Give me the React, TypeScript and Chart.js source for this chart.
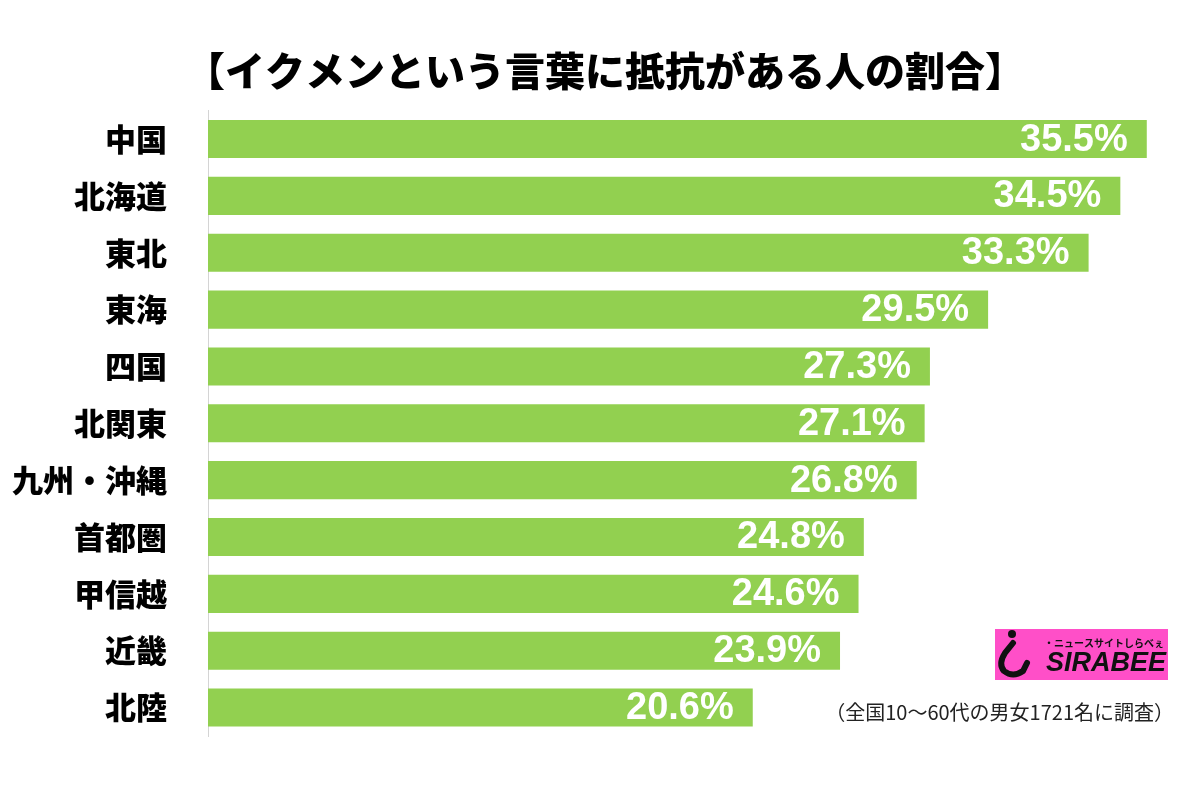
import React, { useEffect, useRef } from "react";
import { Chart, registerables } from "chart.js";

Chart.register(...registerables);

const TITLE = "【イクメンという言葉に抵抗がある人の割合】";
const regions = ["中国", "北海道", "東北", "東海", "四国", "北関東", "九州・沖縄", "首都圏", "甲信越", "近畿", "北陸"];
const percents = [35.5, 34.5, 33.3, 29.5, 27.3, 27.1, 26.8, 24.8, 24.6, 23.9, 20.6];
const valueLabels = percents.map((v) => v.toFixed(1) + "%");
const NOTE = "（全国10～60代の男女1721名に調査）";
const LOGO_TEXT = "SIRABEE";
const LOGO_SUB = "ニュースサイトしらべぇ";

const JP = '"Noto Sans CJK JP", "Noto Sans", sans-serif';
const NUM = '"Liberation Sans", Arial, sans-serif';

const valuePlugin = {
  id: "valueLabels",
  afterDatasetsDraw(chart: any) {
    const ctx = chart.ctx;
    const meta = chart.getDatasetMeta(0);
    ctx.save();
    ctx.font = `bold 38px ${NUM}`;
    ctx.fillStyle = "#ffffff";
    ctx.textAlign = "right";
    ctx.textBaseline = "middle";
    meta.data.forEach((el: any, i: number) => {
      ctx.fillText(valueLabels[i], el.x - 19, el.y + 1);
    });
    ctx.restore();
  },
};

const decorPlugin = {
  id: "decor",
  afterDraw(chart: any) {
    const ctx = chart.ctx;
    ctx.save();
    // title
    ctx.font = `900 40px ${JP}`;
    ctx.fillStyle = "#000";
    ctx.textAlign = "center";
    ctx.textBaseline = "middle";
    ctx.fillText(TITLE, 605, 71);
    // note
    ctx.font = `20px ${JP}`;
    ctx.fillStyle = "#222";
    ctx.textAlign = "right";
    ctx.textBaseline = "middle";
    ctx.fillText(NOTE, 1174, 712);
    // logo
    const lx = 995, ly = 629, lw = 173, lh = 51;
    ctx.fillStyle = "#FF4FC8";
    ctx.fillRect(lx, ly, lw, lh);
    ctx.fillStyle = "#111";
    ctx.beginPath();
    ctx.arc(1012, 634, 4, 0, Math.PI * 2);
    ctx.fill();
    ctx.strokeStyle = "#111";
    ctx.lineWidth = 6;
    ctx.lineCap = "round";
    ctx.beginPath();
    ctx.moveTo(1013, 643);
    ctx.lineTo(1005, 653);
    ctx.quadraticCurveTo(998, 664, 1004, 671);
    ctx.quadraticCurveTo(1013, 678, 1023, 671);
    ctx.lineTo(1027, 663);
    ctx.stroke();
    ctx.font = `bold 10px ${JP}`;
    ctx.textAlign = "right";
    ctx.textBaseline = "middle";
    ctx.fillText("・" + LOGO_SUB, 1164, 643);
    ctx.font = `italic bold 27px ${NUM}`;
    ctx.textBaseline = "alphabetic";
    ctx.fillText(LOGO_TEXT, 1166, 671);
    ctx.restore();
  },
};

export default function App() {
  const ref = useRef<HTMLCanvasElement>(null);
  useEffect(() => {
    const chart = new Chart(ref.current as HTMLCanvasElement, {
      type: "bar",
      data: {
        labels: regions,
        datasets: [
          {
            data: percents,
            backgroundColor: "#92D050",
            borderWidth: 0,
            barPercentage: 0.67,
            categoryPercentage: 1.0,
          },
        ],
      },
      options: {
        indexAxis: "y",
        responsive: false,
        animation: false,
        layout: { padding: { left: 0, right: 40, top: 110.6, bottom: 72 } },
        plugins: {
          legend: { display: false },
          tooltip: { enabled: false },
          title: { display: false },
        },
        scales: {
          x: { display: false, min: 0, max: 36 },
          y: {
            afterFit: (s: any) => {
              s.width = 208;
            },
            grid: { display: false, drawTicks: false },
            border: { display: true, color: "#d4d4d4", width: 1 },
            ticks: {
              padding: 41,
              color: "#000",
              font: { size: 31, weight: "900", family: JP },
            },
          },
        },
      } as any,
      plugins: [valuePlugin, decorPlugin],
    });
    return () => chart.destroy();
  }, []);
  return (
    <div style={{ position: "absolute", left: 0, top: 0, width: 1200, height: 808, background: "#fff" }}>
      <canvas ref={ref} width={1200} height={808} style={{ display: "block", width: 1200, height: 808 }} />
    </div>
  );
}
